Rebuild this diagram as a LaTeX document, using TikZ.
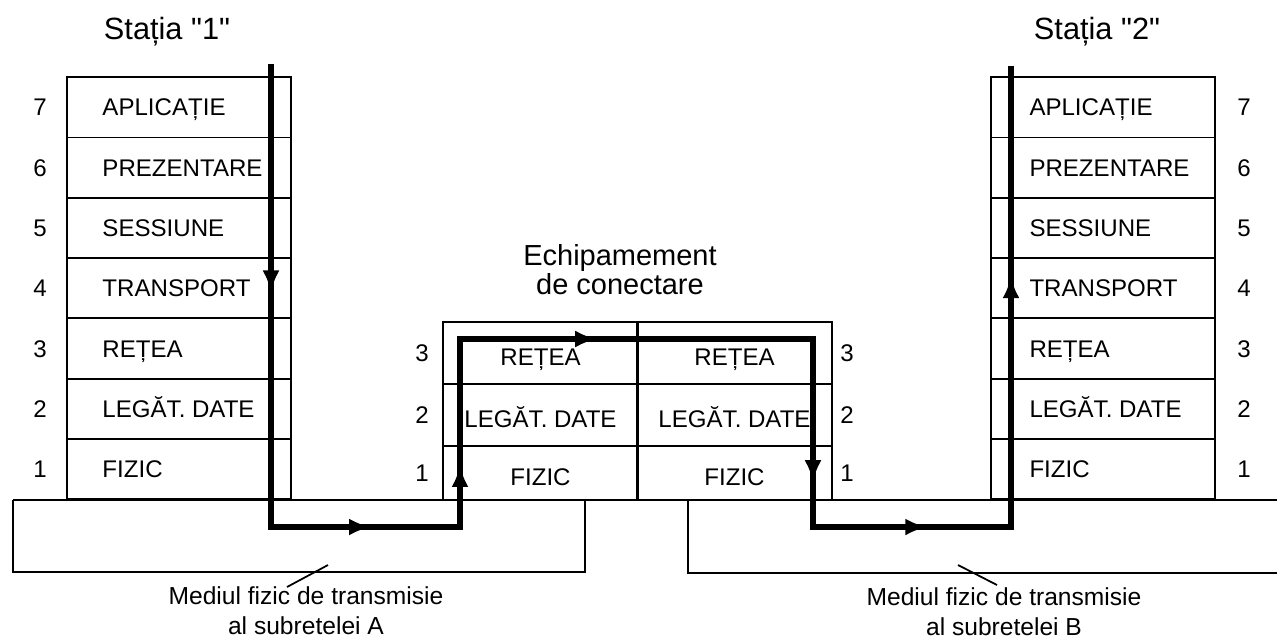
\documentclass[tikz,border=0pt]{standalone}
\usepackage{fontspec}
\setmainfont{Liberation Sans}
\usetikzlibrary{positioning, arrows.meta, decorations.markings}

\newcommand\layerfont{\fontsize{13.7}{16}\selectfont}
\newcommand\titlefont{\fontsize{16.5}{15}\selectfont}
\newcommand\mediumfont{\fontsize{14}{17}\selectfont}

\begin{document}
\begin{tikzpicture}[x=0.02cm, y=-0.02cm,
    thinline/.style={line width=1pt},
    layer/.style={rectangle, draw, line width=1pt, minimum width=4.48cm, minimum height=1.206cm, inner sep=0pt},
    cell/.style={rectangle, draw, line width=1pt, minimum width=3.89cm, minimum height=#1, inner sep=0pt,
      font=\layerfont, text height=14.5pt, text depth=0pt},
    layertext/.style={inner sep=0pt, font=\layerfont, text height=9.8pt, text depth=0pt},
    num/.style={inner sep=0pt, font=\layerfont, text height=9.8pt, text depth=0pt},
    title/.style={inner sep=0pt, font=\titlefont, align=center},
    medtext/.style={inner sep=0pt, font=\mediumfont, align=center},
    flowtip/.tip={Latex[length=0.44cm, width=0.34cm]},
    flow/.style={line width=3.2pt, decoration={markings,
      mark=at position 0.112 with {\arrow{flowtip}},
      mark=at position 0.276 with {\arrow{flowtip}},
      mark=at position 0.350 with {\arrow{flowtip}},
      mark=at position 0.479 with {\arrow{flowtip}},
      mark=at position 0.655 with {\arrow{flowtip}},
      mark=at position 0.733 with {\arrow{flowtip}},
      mark=at position 0.897 with {\arrow{flowtip}}},
      postaction={decorate}}
  ]
  \path[use as bounding box, fill=white] (0,0) rectangle (1277,640);

  % titles
  \node[title, font=\fontsize{17.5}{15}\selectfont] (st1) at (167,32) {Stația \textquotedbl 1\textquotedbl};
  \node[title, font=\fontsize{17.5}{15}\selectfont] (st2) at (1097,32) {Stația \textquotedbl 2\textquotedbl};
  \node[title] (eq) at (620,270) {Echipamement\\de conectare};

  % station 1 and station 2
  \foreach \n/\t [count=\i from 0] in {7/APLICAȚIE,6/PREZENTARE,5/SESSIUNE,4/TRANSPORT,3/REȚEA,2/LEGĂT. DATE,1/FIZIC} {
    \node[layer] (s1l\n) at (179,{107.3+60.3*\i}) {};
    \node[layertext, right=0.72cm of s1l\n.west] (s1t\n) {\t};
    \node[num] (s1n\n) at (40,{107.3+60.3*\i}) {\n};
    \node[layer] (s2l\n) at (1103,{107.3+60.3*\i}) {};
    \node[layertext, right=0.78cm of s2l\n.west] (s2t\n) {\t};
    \node[num] (s2n\n) at (1244,{107.3+60.3*\i}) {\n};
  }

  % connecting equipment
  \foreach \n/\t/\yc/\h in {3/REȚEA/353/62,2/LEGĂT. DATE/415/62,1/FIZIC/473/54} {
    \node[cell=\h*0.02cm] (e1l\n) at (540.5,\yc) {\t};
    \node[cell=\h*0.02cm] (e2l\n) at (734.5,\yc) {\t};
    \node[num] (e1n\n) at (422,\yc) {\n};
    \node[num] (e2n\n) at (847,\yc) {\n};
  }

  % physical media
  \draw[thinline] (13,500) -- (1277,500);
  \draw[thinline] (13,500) -- (13,572) -- (585,572) -- (585,500);
  \draw[thinline] (688,500) -- (688,573) -- (1277,573);

  \node[medtext] (medA) at (306,611) {Mediul fizic de transmisie\\al subretelei A};
  \node[medtext] (medB) at (1004,612) {Mediul fizic de transmisie\\al subretelei B};
  \coordinate (ptrA1) at (328,565);
  \coordinate (ptrA2) at (287,587);
  \coordinate (ptrB1) at (958,565);
  \coordinate (ptrB2) at (997,585);
  \draw[thinline] (ptrA1) -- (ptrA2);
  \draw[thinline] (ptrB1) -- (ptrB2);

  % data path
  \coordinate (p1) at (271,64);
  \coordinate (p2) at (271,527);
  \coordinate (p3) at (460,527);
  \coordinate (p4) at (460,339);
  \coordinate (p5) at (813,339);
  \coordinate (p6) at (813,527);
  \coordinate (p7) at (1011,527);
  \coordinate (p8) at (1011,66);
  \draw[flow] (p1) -- (p2) -- (p3) -- (p4) -- (p5) -- (p6) -- (p7) -- (p8);
\end{tikzpicture}
\end{document}
